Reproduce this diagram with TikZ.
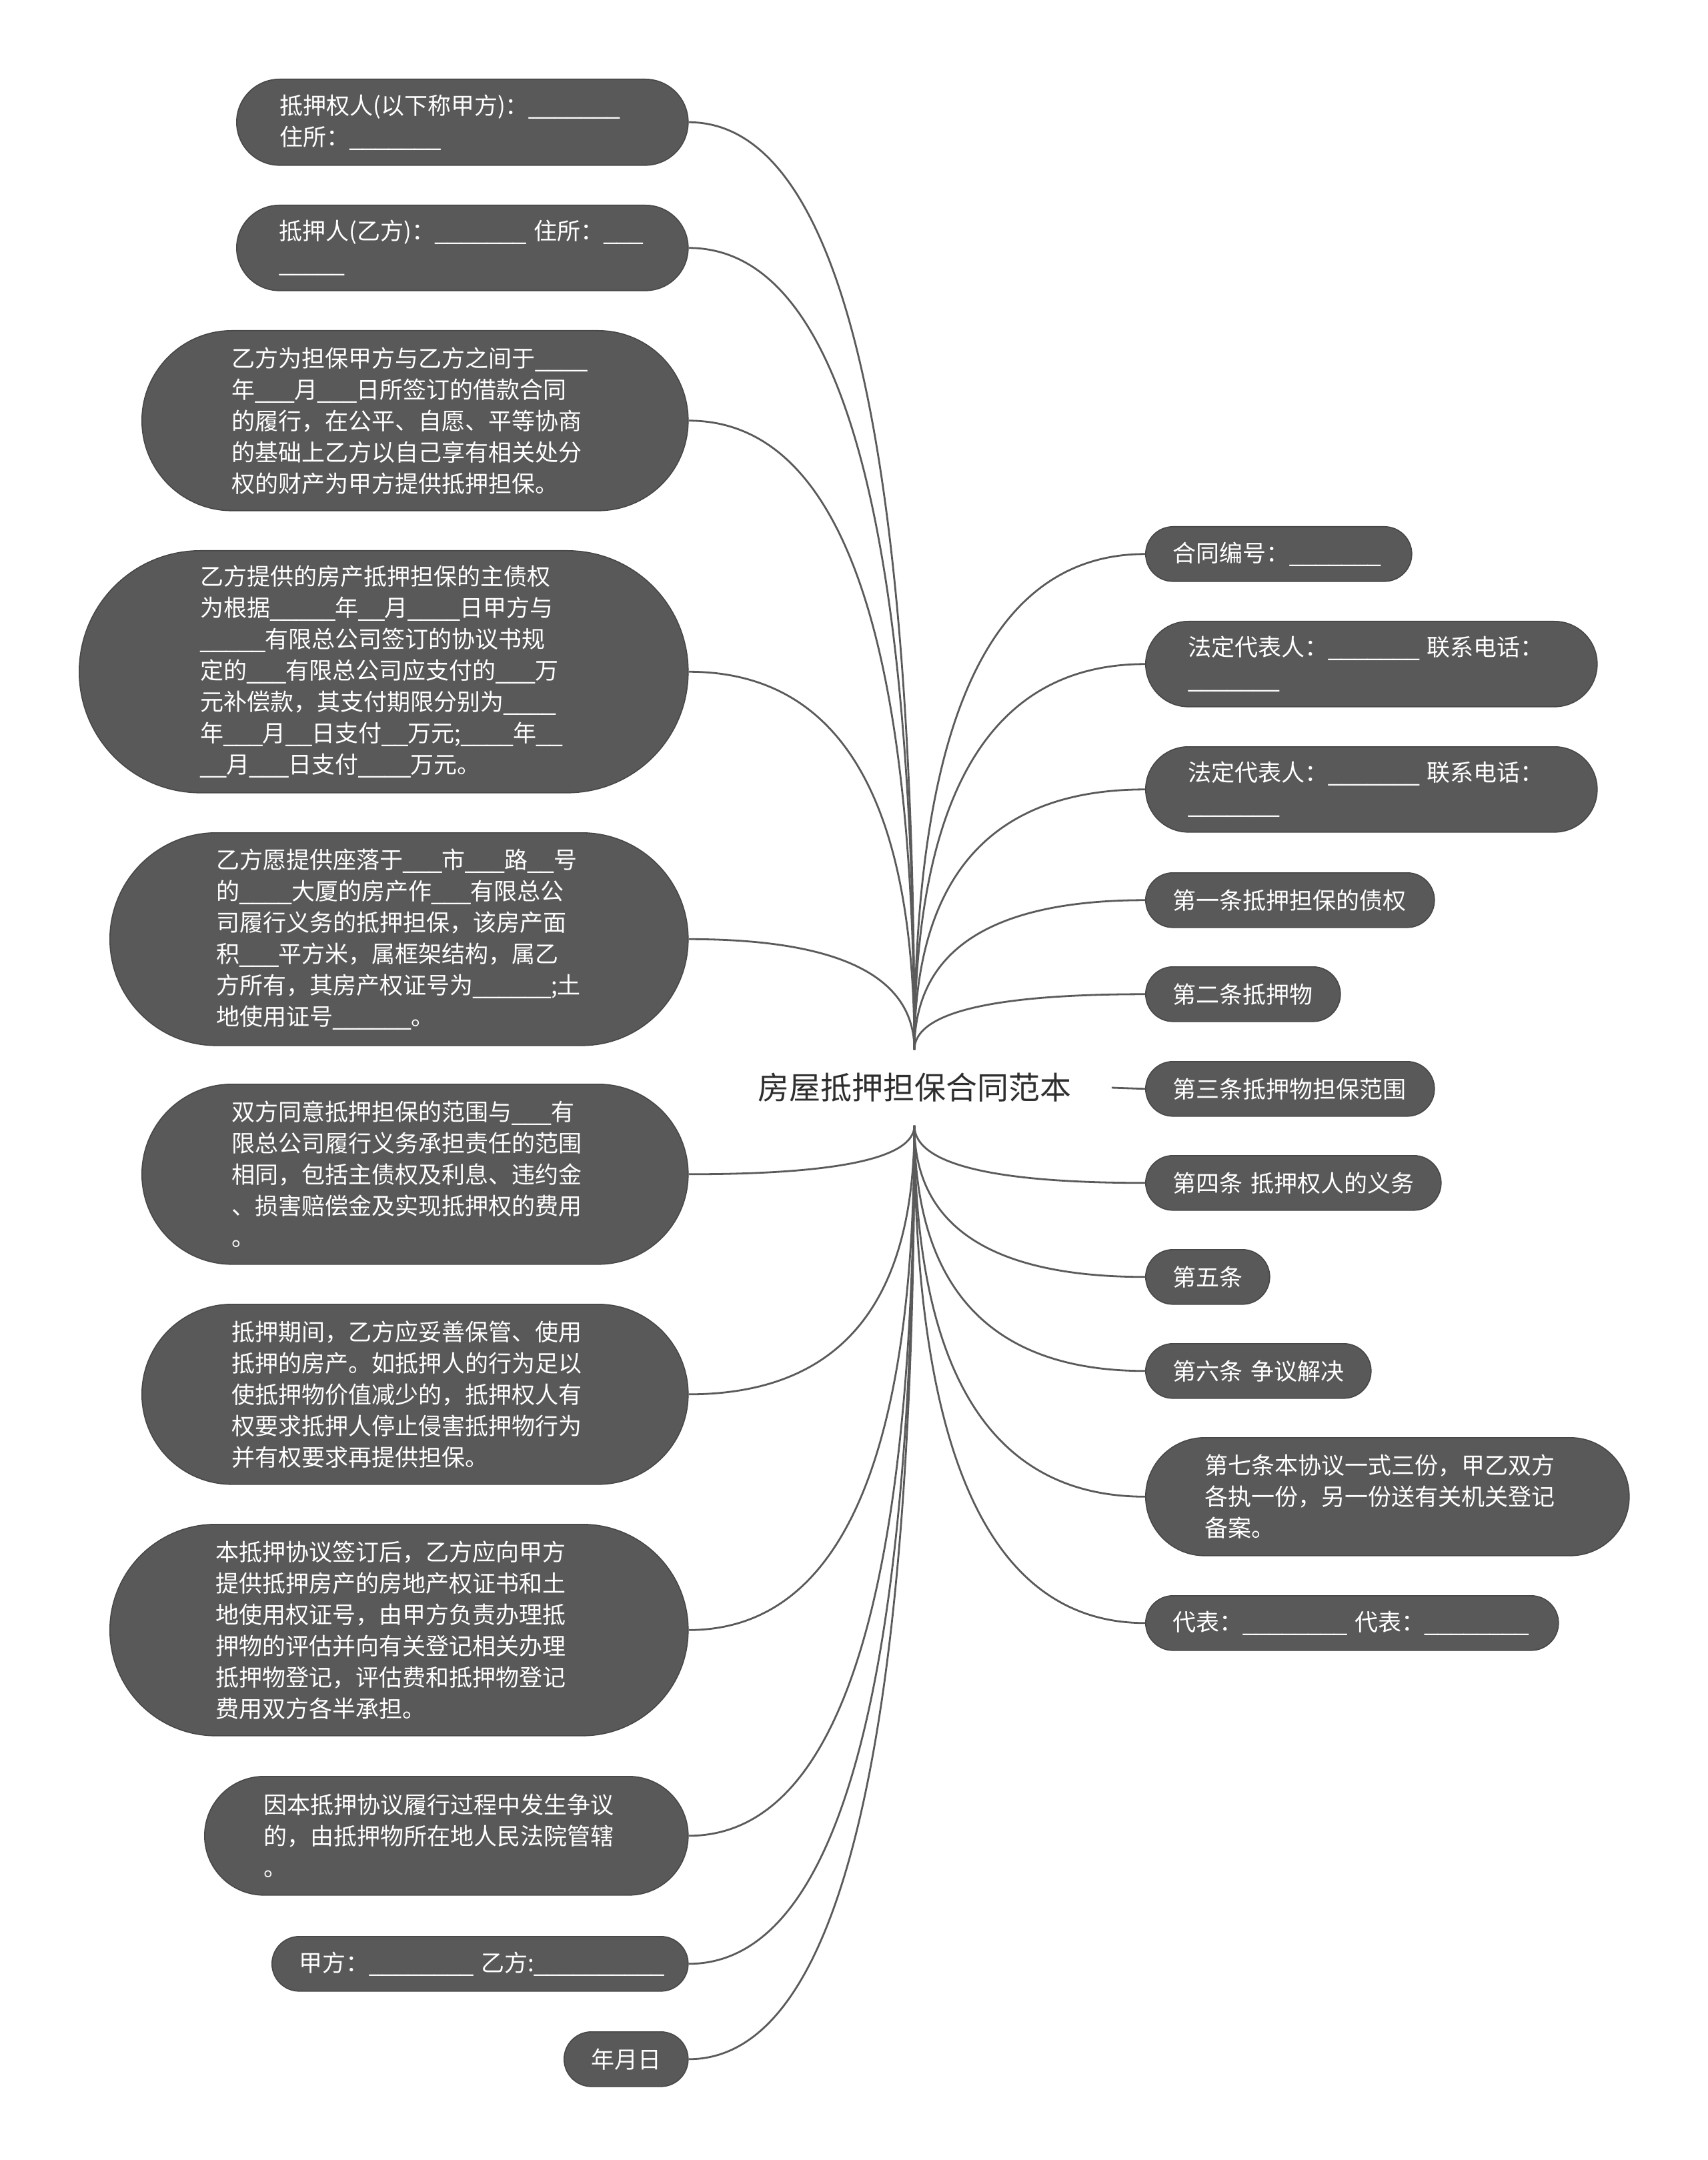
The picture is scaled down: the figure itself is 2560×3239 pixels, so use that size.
\documentclass[tikz,border=0pt]{standalone}
\usepackage{fontspec}
\setmainfont{Noto Sans CJK SC}
\newfontfamily\usfont{Liberation Sans}
\usetikzlibrary{calc}
\definecolor{nodefill}{HTML}{595959}
\definecolor{nodeline}{HTML}{474747}
\definecolor{connc}{HTML}{5a5a5a}
\definecolor{roottext}{HTML}{2e2e2e}
\tikzset{
  mmnode/.style={shape=rectangle, fill=nodefill, draw=nodeline, line width=0.4pt,
    text=white, align=left, inner ysep=0pt,
    font=\fontsize{8.75pt}{11.75pt}\selectfont},
  conn/.style={draw=connc, line width=0.7pt},
  rootnode/.style={shape=rectangle, text=roottext, inner xsep=15pt, inner ysep=0pt,
    minimum height=28pt, font=\fontsize{11.75pt}{14pt}\selectfont}
}
\newcommand\mmbox[6]{%
  \pgfmathsetmacro\mmW{#4*0.25}%
  \pgfmathsetmacro\mmH{#5*0.25}%
  \pgfmathsetmacro\mmT{(#4-#5)*0.25}%
  \pgfmathsetmacro\mmR{#5*0.125}%
  \node[mmnode, minimum width=\mmW pt, minimum height=\mmH pt, text width=\mmT pt,
    inner xsep=\mmR pt, rounded corners=\mmR pt, anchor=north west] (#1) at (#2,#3) {#6};%
}
\newcommand\mmconn[2]{%
  \draw[conn] (#1) .. controls ($(#1)!0.6667!(#1 |- #2)$) and ($(#2)!0.6667!(#1 |- #2)$) .. (#2);%
}
\begingroup\lccode`\~=`\_\lowercase{\endgroup\def~}{{\usfont\char95}}
\begin{document}
\catcode`\_=\active
\begin{tikzpicture}[x=0.25pt,y=-0.25pt]
\fill[white] (0,0) rectangle (2560,3239);
\path[use as bounding box] (0,0) rectangle (2560,3239);

\node[rootnode] (root) at (1371,1631) {房屋抵押担保合同范本};

% left branch
\mmbox{L1}{354}{118}{677}{129}{抵押权人(以下称甲方)：_______\\住所：_______}
\mmbox{L2}{354}{307}{677}{128}{抵押人(乙方)：_______~住所：___\\_____}
\mmbox{L3}{212}{495}{819}{270}{乙方为担保甲方与乙方之间于____\\年___月___日所签订的借款合同\\的履行，在公平、自愿、平等协商\\的基础上乙方以自己享有相关处分\\权的财产为甲方提供抵押担保。}
\mmbox{L4}{118}{825}{913}{363}{乙方提供的房产抵押担保的主债权\\为根据_____年__月____日甲方与\\_____有限总公司签订的协议书规\\定的___有限总公司应支付的___万\\元补偿款，其支付期限分别为____\\年___月__日支付__万元;____年__\\__月___日支付____万元。}
\mmbox{L5}{164}{1248}{867}{319}{乙方愿提供座落于___市___路__号\\的____大厦的房产作___有限总公\\司履行义务的抵押担保，该房产面\\积___平方米，属框架结构，属乙\\方所有，其房产权证号为______;土\\地使用证号______。}
\mmbox{L6}{212}{1625}{819}{270}{双方同意抵押担保的范围与___有\\限总公司履行义务承担责任的范围\\相同，包括主债权及利息、违约金\\、损害赔偿金及实现抵押权的费用\\。}
\mmbox{L7}{212}{1955}{819}{270}{抵押期间，乙方应妥善保管、使用\\抵押的房产。如抵押人的行为足以\\使抵押物价值减少的，抵押权人有\\权要求抵押人停止侵害抵押物行为\\并有权要求再提供担保。}
\mmbox{L8}{164}{2285}{867}{317}{本抵押协议签订后，乙方应向甲方\\提供抵押房产的房地产权证书和土\\地使用权证号，由甲方负责办理抵\\押物的评估并向有关登记相关办理\\抵押物登记，评估费和抵押物登记\\费用双方各半承担。}
\mmbox{L9}{306}{2663}{725}{178}{因本抵押协议履行过程中发生争议\\的，由抵押物所在地人民法院管辖\\。}
\mmbox{L10}{407}{2903}{624}{82}{甲方：________~乙方:__________}
\mmbox{L11}{845}{3046}{186}{82}{年月日}

% right branch
\mmbox{R1}{1717}{789}{399}{82}{合同编号：_______}
\mmbox{R2}{1717}{931}{677}{128}{法定代表人：_______~联系电话：\\_______}
\mmbox{R3}{1717}{1119}{677}{128}{法定代表人：_______~联系电话：\\_______}
\mmbox{R4}{1717}{1308}{433}{82}{第一条抵押担保的债权}
\mmbox{R5}{1717}{1449}{292}{82}{第二条抵押物}
\mmbox{R6}{1717}{1591}{433}{82}{第三条抵押物担保范围}
\mmbox{R7}{1717}{1732}{443}{82}{第四条~抵押权人的义务}
\mmbox{R8}{1717}{1873}{186}{82}{第五条}
\mmbox{R9}{1717}{2014}{338}{82}{第六条~争议解决}
\mmbox{R10}{1717}{2155}{725}{177}{第七条本协议一式三份，甲乙双方\\各执一份，另一份送有关机关登记\\备案。}
\mmbox{R11}{1717}{2392}{619}{82}{代表：________~代表：________}

% connectors
\mmconn{root.north}{L1.east}
\mmconn{root.north}{L2.east}
\mmconn{root.north}{L3.east}
\mmconn{root.north}{L4.east}
\mmconn{root.north}{L5.east}
\mmconn{root.south}{L6.east}
\mmconn{root.south}{L7.east}
\mmconn{root.south}{L8.east}
\mmconn{root.south}{L9.east}
\mmconn{root.south}{L10.east}
\mmconn{root.south}{L11.east}
\mmconn{root.north}{R1.west}
\mmconn{root.north}{R2.west}
\mmconn{root.north}{R3.west}
\mmconn{root.north}{R4.west}
\mmconn{root.north}{R5.west}
\draw[conn] (root.east) -- (R6.west);
\mmconn{root.south}{R7.west}
\mmconn{root.south}{R8.west}
\mmconn{root.south}{R9.west}
\mmconn{root.south}{R10.west}
\mmconn{root.south}{R11.west}
\end{tikzpicture}
\end{document}
